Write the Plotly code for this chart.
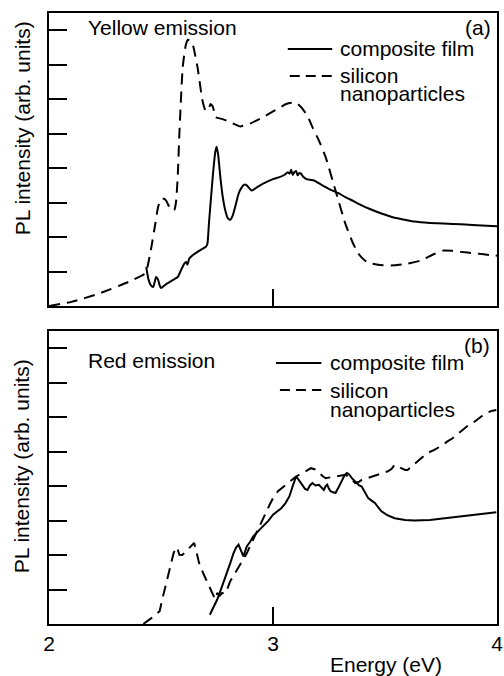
import plotly.graph_objects as go

# ---------------- data ----------------
yellow_np_energy = [2.00, 2.10, 2.223, 2.355, 2.428, 2.440, 2.457, 2.475, 2.487, 2.501, 2.513, 2.523, 2.535,
                    2.545, 2.560, 2.567, 2.575, 2.582, 2.597, 2.610, 2.619, 2.630, 2.641, 2.663, 2.685,
                    2.699, 2.712, 2.721, 2.730, 2.736, 2.743, 2.775, 2.809, 2.853, 2.900, 2.956, 3.010,
                    3.059, 3.090, 3.110, 3.132, 3.155, 3.176, 3.205, 3.235, 3.279, 3.323, 3.355, 3.381,
                    3.410, 3.440, 3.490, 3.543, 3.600, 3.660, 3.710, 3.762, 3.800, 3.836, 3.900, 3.982, 4.00]
yellow_np_pl = [0.00, 0.12, 0.36, 0.70, 0.94, 1.15, 1.71, 2.40, 2.87, 3.11, 3.11, 3.06, 2.90,
                2.77, 2.80, 3.01, 3.80, 5.00, 6.93, 7.55, 7.72, 7.70, 7.60, 6.93, 5.96,
                5.67, 5.70, 5.86, 5.80, 5.67, 5.48, 5.42, 5.33, 5.21, 5.30, 5.48, 5.68,
                5.86, 5.90, 5.86, 5.72, 5.50, 5.19, 4.80, 4.32, 3.35, 2.39, 1.85, 1.52,
                1.32, 1.23, 1.18, 1.18, 1.23, 1.32, 1.48, 1.61, 1.60, 1.57, 1.53, 1.47, 1.46]

yellow_film_energy = [2.434, 2.445, 2.455, 2.465, 2.472, 2.478, 2.486, 2.494, 2.500, 2.520, 2.545,
                      2.560, 2.575, 2.590, 2.604, 2.612, 2.618, 2.626, 2.641, 2.663, 2.685, 2.699,
                      2.707, 2.714, 2.724, 2.733, 2.742, 2.748, 2.755, 2.765, 2.776, 2.787, 2.798,
                      2.809, 2.820, 2.831, 2.846, 2.861, 2.872, 2.883, 2.894, 2.905, 2.930, 2.956,
                      3.000, 3.029, 3.050, 3.066, 3.074, 3.081, 3.088, 3.095, 3.103, 3.110, 3.118,
                      3.125, 3.136, 3.147, 3.165, 3.183, 3.215, 3.249, 3.290, 3.323, 3.360, 3.396,
                      3.430, 3.469, 3.505, 3.543, 3.590, 3.631, 3.700, 3.762, 3.840, 3.909, 4.00]
yellow_film_pl = [1.13, 0.75, 0.60, 0.55, 0.70, 0.84, 0.78, 0.60, 0.52, 0.62, 0.72,
                  0.78, 0.84, 1.05, 1.23, 1.28, 1.20, 1.37, 1.47, 1.57, 1.66, 1.71,
                  1.80, 2.40, 3.20, 3.90, 4.45, 4.62, 4.40, 3.74, 3.15, 2.77, 2.55,
                  2.50, 2.62, 2.87, 3.25, 3.45, 3.52, 3.50, 3.42, 3.35, 3.45, 3.55,
                  3.68, 3.74, 3.80, 3.88, 3.84, 3.95, 3.80, 3.88, 3.92, 3.79, 3.86,
                  3.84, 3.74, 3.69, 3.66, 3.64, 3.52, 3.40, 3.28, 3.16, 3.04, 2.92,
                  2.82, 2.72, 2.64, 2.56, 2.50, 2.45, 2.41, 2.39, 2.37, 2.34, 2.31]

red_np_energy = [2.421, 2.440, 2.457, 2.480, 2.494, 2.505, 2.516, 2.530, 2.545, 2.556, 2.567, 2.575,
                 2.582, 2.595, 2.611, 2.630, 2.648, 2.658, 2.670, 2.690, 2.707, 2.722, 2.736, 2.744,
                 2.751, 2.762, 2.773, 2.785, 2.795, 2.809, 2.824, 2.839, 2.853, 2.868, 2.883, 2.897,
                 2.912, 2.927, 2.941, 2.956, 2.970, 2.985, 3.000, 3.022, 3.040, 3.059, 3.080, 3.103,
                 3.132, 3.150, 3.169, 3.190, 3.205, 3.220, 3.235, 3.257, 3.279, 3.300, 3.323, 3.345,
                 3.367, 3.382, 3.396, 3.430, 3.469, 3.490, 3.513, 3.530, 3.543, 3.558, 3.572, 3.590,
                 3.601, 3.620, 3.645, 3.670, 3.689, 3.720, 3.748, 3.760, 3.777, 3.800, 3.821, 3.845,
                 3.865, 3.890, 3.909, 3.930, 3.953, 3.975, 3.997]
red_np_pl = [0.00, 0.08, 0.17, 0.30, 0.37, 0.70, 1.00, 1.40, 1.77, 2.05, 2.23, 2.15,
             2.01, 2.00, 2.11, 2.25, 2.35, 2.10, 1.77, 1.45, 1.19, 0.98, 0.80, 0.72,
             0.90, 0.82, 0.90, 0.88, 1.00, 1.24, 1.40, 1.57, 1.70, 1.86, 2.05, 2.25,
             2.45, 2.64, 2.85, 3.02, 3.25, 3.46, 3.65, 3.85, 3.95, 4.04, 4.15, 4.28,
             4.38, 4.45, 4.52, 4.48, 4.38, 4.30, 4.23, 4.25, 4.28, 4.30, 4.33, 4.25,
             4.09, 4.12, 4.18, 4.25, 4.33, 4.38, 4.43, 4.50, 4.62, 4.58, 4.52, 4.47,
             4.47, 4.58, 4.71, 4.85, 4.96, 5.05, 5.15, 5.20, 5.29, 5.38, 5.49, 5.62,
             5.73, 5.82, 5.92, 6.02, 6.12, 6.18, 6.21]

red_film_energy = [2.718, 2.735, 2.751, 2.773, 2.795, 2.810, 2.824, 2.835, 2.846, 2.857, 2.868,
                   2.875, 2.883, 2.897, 2.912, 2.935, 2.956, 2.980, 3.000, 3.020, 3.037, 3.055,
                   3.073, 3.088, 3.103, 3.118, 3.132, 3.143, 3.154, 3.165, 3.176, 3.190, 3.205,
                   3.216, 3.227, 3.235, 3.242, 3.250, 3.257, 3.268, 3.279, 3.294, 3.308, 3.320,
                   3.330, 3.341, 3.352, 3.363, 3.374, 3.385, 3.396, 3.410, 3.425, 3.440, 3.455,
                   3.470, 3.484, 3.510, 3.543, 3.590, 3.631, 3.700, 3.762, 3.840, 3.909, 3.997]
red_film_pl = [0.27, 0.50, 0.71, 1.10, 1.48, 1.78, 2.06, 2.22, 2.30, 2.15, 1.96,
               2.10, 2.25, 2.38, 2.54, 2.70, 2.83, 3.00, 3.17, 3.28, 3.36, 3.50,
               3.70, 4.00, 4.28, 4.15, 4.04, 3.92, 3.89, 4.02, 4.09, 4.02, 4.04,
               3.95, 3.89, 4.00, 4.04, 3.92, 3.85, 3.82, 3.80, 3.98, 4.18, 4.32,
               4.38, 4.33, 4.23, 4.15, 4.09, 4.02, 3.99, 3.82, 3.65, 3.58, 3.51,
               3.38, 3.27, 3.16, 3.07, 3.02, 3.00, 3.02, 3.07, 3.12, 3.17, 3.24]

x_ticks = [2, 3, 4]
x_tick_labels = ["2", "3", "4"]
y_ticks = [1, 2, 3, 4, 5, 6, 7, 8]

# ---------------- layout helpers ----------------
W, H = 504, 676
ML, MR, MT, MB = 49, 1, 13, 52
PW, PH = W - ML - MR, H - MT - MB
FONT = "Liberation Sans, Arial, Helvetica, sans-serif"
FS = 21


def px_x(p):
    return (p - ML) / PW


def px_y(p):
    return (H - MB - p) / PH


top_dom = [px_y(306), 1.0]
bot_dom = [0.0, px_y(331)]

dash_pat = "11px,7px"

fig = go.Figure()
fig.add_trace(go.Scatter(x=yellow_np_energy, y=yellow_np_pl, mode="lines", xaxis="x", yaxis="y",
                         line=dict(color="black", width=2, dash=dash_pat, shape="spline", smoothing=0.5),
                         showlegend=False, name="silicon nanoparticles"))
fig.add_trace(go.Scatter(x=yellow_film_energy, y=yellow_film_pl, mode="lines", xaxis="x", yaxis="y",
                         line=dict(color="black", width=2, shape="spline", smoothing=0.5),
                         showlegend=False, name="composite film"))
fig.add_trace(go.Scatter(x=red_np_energy, y=red_np_pl, mode="lines", xaxis="x2", yaxis="y2",
                         line=dict(color="black", width=2, dash=dash_pat),
                         showlegend=False, name="silicon nanoparticles"))
fig.add_trace(go.Scatter(x=red_film_energy, y=red_film_pl, mode="lines", xaxis="x2", yaxis="y2",
                         line=dict(color="black", width=2),
                         showlegend=False, name="composite film"))

xcommon = dict(range=[2, 4], tickvals=x_ticks, ticktext=x_tick_labels, ticks="inside", ticklen=17,
               tickwidth=2, tickcolor="black", showline=True, linewidth=2, linecolor="black",
               mirror=True, showgrid=False, zeroline=False,
               tickfont=dict(family=FONT, size=FS, color="black"))
ycommon = dict(range=[0, 8.5], tickvals=y_ticks, ticks="inside", ticklen=18, tickwidth=2,
               tickcolor="black", showline=True, linewidth=2, linecolor="black", mirror=True,
               showgrid=False, zeroline=False, showticklabels=False)

annotations = []


def txt(t, x, y, xanchor="left", size=FS, angle=0):
    annotations.append(dict(text=t, x=px_x(x), y=px_y(y), xref="paper", yref="paper",
                            xanchor=xanchor, yanchor="middle", showarrow=False, textangle=angle,
                            font=dict(family=FONT, size=size, color="black")))


txt("Yellow emission", 87, 28)
txt("(a)", 499, 28, xanchor="right")
txt("composite film", 342, 48)
txt("silicon", 342, 75)
txt("nanoparticles", 342, 94)
txt("Red emission", 87, 360)
txt("(b)", 498, 345, xanchor="right")
txt("composite film", 332, 362)
txt("silicon", 332, 390)
txt("nanoparticles", 332, 409)
txt("PL intensity (arb. units)", 22, 128, xanchor="center", angle=-90)
txt("PL intensity (arb. units)", 22, 466, xanchor="center", angle=-90)
txt("Energy (eV)", 391, 664, xanchor="center")

shapes = []


def legline(x0, x1, y, dash=None):
    ln = dict(color="black", width=2)
    if dash:
        ln["dash"] = dash
    shapes.append(dict(type="line", xref="paper", yref="paper", x0=px_x(x0), x1=px_x(x1),
                       y0=px_y(y), y1=px_y(y), line=ln))


legline(291, 336, 49)
legline(293, 336, 76, "10px,6px")
legline(279, 325, 363)
legline(283, 325, 390, "10px,6px")

fig.update_layout(
    width=W, height=H,
    margin=dict(l=ML, r=MR, t=MT, b=MB, pad=0),
    paper_bgcolor="white", plot_bgcolor="white",
    font=dict(family=FONT, size=FS, color="black"),
    xaxis=dict(domain=[0, 1], anchor="y", showticklabels=False, **xcommon),
    yaxis=dict(domain=top_dom, anchor="x", **ycommon),
    xaxis2=dict(domain=[0, 1], anchor="y2", showticklabels=True, ticklabeloverflow="allow", **xcommon),
    yaxis2=dict(domain=bot_dom, anchor="x2", **ycommon),
    annotations=annotations,
    shapes=shapes,
    showlegend=False,
)

fig.write_html("out.html")
